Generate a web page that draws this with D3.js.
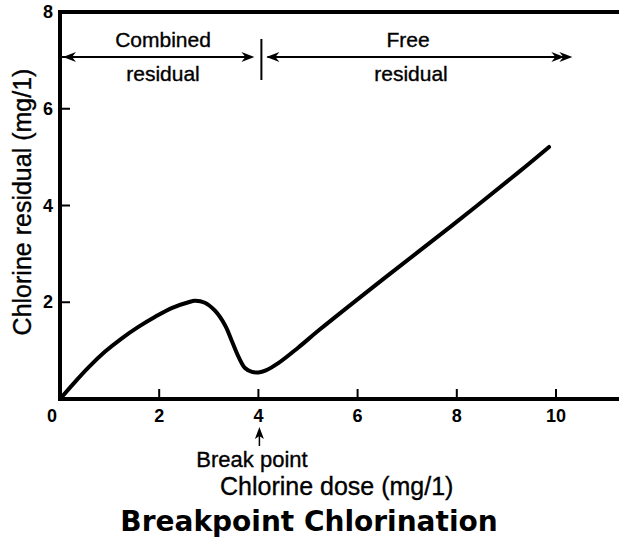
<!DOCTYPE html>
<html>
<head>
<meta charset="utf-8">
<script src="https://cdn.jsdelivr.net/npm/d3@7"></script>
<style>
  html, body { margin: 0; padding: 0; background: #fff; }
  svg { display: block; }
  text { font-family: "Liberation Sans", Arial, sans-serif; fill: #000; }
  .lbl { stroke: #000; stroke-width: 0.35px; }
</style>
</head>
<body>
<script>
// Chlorine dose (mg/l) vs. chlorine residual (mg/l)
const doseValues = [0, 0.3, 0.57, 0.91, 1.24, 1.58, 1.92, 2.25, 2.59, 2.72, 2.92, 3.12, 3.33, 3.46, 3.6, 3.73, 3.87, 4.0, 4.15, 4.4, 4.8, 5.23, 6.58, 7.92, 9.26, 9.86];
const residualValues = [0, 0.35, 0.65, 0.98, 1.25, 1.49, 1.70, 1.88, 2.0, 2.03, 1.99, 1.83, 1.52, 1.21, 0.87, 0.64, 0.56, 0.55, 0.59, 0.74, 1.06, 1.43, 2.53, 3.6, 4.7, 5.21];
const xTicks = [0, 2, 4, 6, 8, 10];
const yTicks = [2, 4, 6, 8];
const breakPoint = 4;

const W = 619, H = 539;
const svg = d3.select("body").append("svg").attr("width", W).attr("height", H);

const x = d3.scaleLinear().domain([0, 10]).range([60, 556]);
const y = d3.scaleLinear().domain([0, 8]).range([399, 12]);

// frame: left axis, bottom axis, top border
svg.append("line").attr("x1", x(0)).attr("x2", x(0)).attr("y1", y(8) - 2).attr("y2", y(0) + 2)
  .attr("stroke", "#000").attr("stroke-width", 4);
svg.append("line").attr("x1", x(0) - 2).attr("x2", W).attr("y1", y(0)).attr("y2", y(0))
  .attr("stroke", "#000").attr("stroke-width", 4);
svg.append("line").attr("x1", x(0) - 2).attr("x2", W).attr("y1", y(8)).attr("y2", y(8))
  .attr("stroke", "#000").attr("stroke-width", 4);

// x ticks (inward) and labels
const xt = svg.append("g");
xt.selectAll("line").data(xTicks.filter(d => d > 0)).join("line")
  .attr("x1", d => x(d)).attr("x2", d => x(d)).attr("y1", y(0)).attr("y2", y(0) - 10)
  .attr("stroke", "#000").attr("stroke-width", 2);
xt.selectAll("text").data(xTicks).join("text")
  .attr("x", d => d === 0 ? x(d) - 8 : x(d)).attr("y", 422)
  .attr("text-anchor", "middle").attr("font-size", 18).attr("font-weight", "bold")
  .text(d => d);

// y ticks (inward) and labels
const yt = svg.append("g");
yt.selectAll("line").data(yTicks.filter(d => d < 8)).join("line")
  .attr("x1", x(0)).attr("x2", x(0) + 10).attr("y1", d => y(d)).attr("y2", d => y(d))
  .attr("stroke", "#000").attr("stroke-width", 2);
yt.selectAll("text").data(yTicks).join("text")
  .attr("x", x(0) - 7).attr("y", d => y(d) + 6)
  .attr("text-anchor", "end").attr("font-size", 18).attr("font-weight", "bold")
  .text(d => d);

// residual curve
const pts = doseValues.map((d, i) => [d, residualValues[i]]);
svg.append("path").datum(pts)
  .attr("d", d3.line().x(d => x(d[0])).y(d => y(d[1])).curve(d3.curveCatmullRom.alpha(0.5)))
  .attr("fill", "none").attr("stroke", "#000").attr("stroke-width", 4)
  .attr("stroke-linejoin", "round").attr("stroke-linecap", "round");

// zone arrows
const ay = 57;
const head = (tipX, dir) => {
  // dir = -1 points left, +1 points right
  const L = 13, h = 5;
  return `M${tipX},${ay} L${tipX - dir * L},${ay - h} L${tipX - dir * (L - 4)},${ay} L${tipX - dir * L},${ay + h} Z`;
};
const zoneG = svg.append("g");
const divX = x(breakPoint) + 3;
zoneG.append("line").attr("x1", x(0) + 2).attr("x2", divX - 10).attr("y1", ay).attr("y2", ay)
  .attr("stroke", "#000").attr("stroke-width", 2);
zoneG.append("line").attr("x1", divX + 6).attr("x2", x(10.2)).attr("y1", ay).attr("y2", ay)
  .attr("stroke", "#000").attr("stroke-width", 2);
zoneG.append("line").attr("x1", divX).attr("x2", divX).attr("y1", 39).attr("y2", 80)
  .attr("stroke", "#000").attr("stroke-width", 2);
zoneG.append("path").attr("d", head(x(0) + 3, -1));
zoneG.append("path").attr("d", head(divX - 7, 1));
zoneG.append("path").attr("d", head(divX + 5, -1));
zoneG.append("path").attr("d", head(x(10.33), 1));
zoneG.append("path").attr("d", head(x(10.33) - 8, 1));

const zoneLabels = [
  { t: "Combined", cx: 163, y: 47 },
  { t: "residual", cx: 163, y: 81 },
  { t: "Free", cx: 408, y: 47 },
  { t: "residual", cx: 411, y: 81 }
];
zoneG.selectAll("text").data(zoneLabels).join("text")
  .attr("class", "lbl")
  .attr("x", d => d.cx).attr("y", d => d.y).attr("text-anchor", "middle")
  .attr("font-size", 21).text(d => d.t);

// break point marker
const bx = x(breakPoint) + 1;
svg.append("line").attr("x1", bx).attr("x2", bx).attr("y1", 434).attr("y2", 446)
  .attr("stroke", "#000").attr("stroke-width", 1.5);
svg.append("path").attr("d", `M${bx},${427} L${bx - 4.5},${439} L${bx},${436} L${bx + 4.5},${439} Z`);
svg.append("text").attr("class", "lbl").attr("x", 252).attr("y", 467).attr("text-anchor", "middle")
  .attr("font-size", 22).text("Break point");

// axis titles
svg.append("text").attr("class", "lbl").attr("x", 220).attr("y", 495).attr("text-anchor", "start")
  .attr("font-size", 25).text("Chlorine dose (mg/1)");
svg.append("text").attr("class", "lbl").attr("transform", "translate(31,202) rotate(-90)").attr("text-anchor", "middle")
  .attr("font-size", 25).text("Chlorine residual (mg/1)");

// chart title
svg.append("text").attr("x", 309).attr("y", 531).attr("text-anchor", "middle")
  .style("font-family", "'DejaVu Sans', Verdana, sans-serif")
  .attr("font-size", 28).attr("font-weight", "bold").text("Breakpoint Chlorination");
</script>
</body>
</html>
